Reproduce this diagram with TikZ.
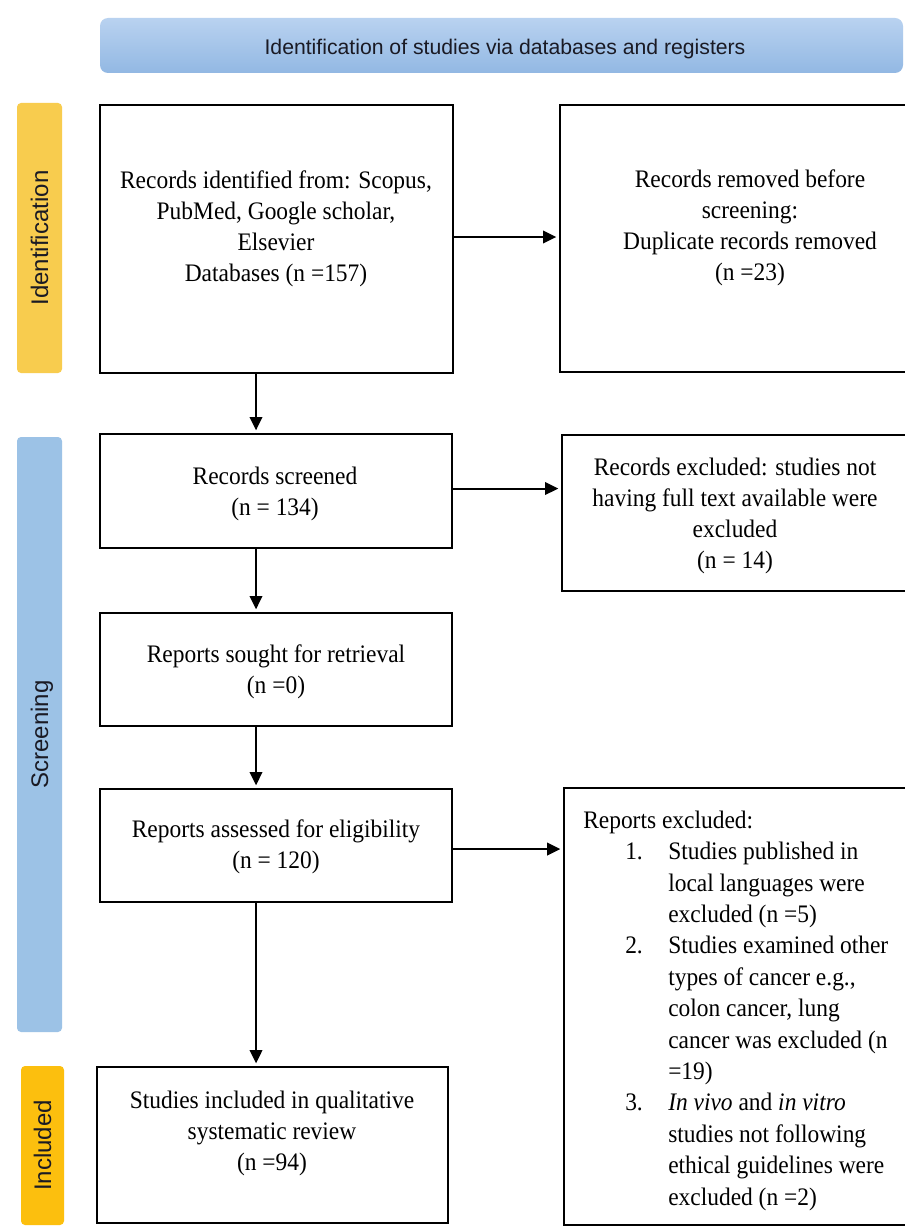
\documentclass[tikz,border=0pt]{standalone}
\usepackage{fontspec}
\setmainfont{Liberation Serif}[FakeStretch=0.93]
\newfontfamily\sansf{Liberation Sans}
\usetikzlibrary{arrows.meta,fit}
\definecolor{bannertop}{HTML}{B9D2F0}
\definecolor{bannerbot}{HTML}{92B8E3}
\definecolor{idcol}{HTML}{F8CC4E}
\definecolor{scrcol}{HTML}{9CC2E6}
\definecolor{inccol}{HTML}{FCBF0E}
\definecolor{lbltext}{HTML}{1A1A24}
\newcommand\ritem[1]{\hspace*{31.5pt}\makebox[32.25pt][l]{#1}}
\newcommand\rcont{\hspace*{63.75pt}}
\newcommand\fstrut{\rule{0pt}{14pt}}
\begin{document}
\begin{tikzpicture}[x=0.75pt,y=-0.75pt,
  box/.style={draw=black, line width=1.5pt, inner sep=0pt},
  txt/.style={font=\fontsize{18.9pt}{23.25pt}\selectfont, align=center, inner sep=0pt, anchor=north},
  listtxt/.style={font=\fontsize{18.9pt}{23.55pt}\selectfont, align=left, inner sep=0pt, anchor=north west},
  arr/.style={line width=1.5pt, -{Triangle[length=10pt,width=9.5pt]}, shorten >=2pt},
  bar/.style={inner sep=0pt, rounded corners=3pt},
  barlbl/.style={font=\sansf\fontsize{18pt}{20pt}\selectfont, rotate=90, text=lbltext, anchor=base, inner sep=0pt}]
\useasboundingbox (0,0) rectangle (905,1227);
\fill[white] (0,0) rectangle (905,1227);
\clip (0,0) rectangle (905,1227);

% banner
\node[fit={(100,18) (903,73)}, inner sep=0pt, rounded corners=6pt, top color=bannertop, bottom color=bannerbot] (banner) {};
\node[font=\sansf\fontsize{15.9pt}{18pt}\selectfont, text=lbltext, anchor=base, inner sep=0pt] (bannertxt) at (505,54.5) {Identification of studies via databases and registers};

% phase bars
\node[bar, fill=idcol, fit={(17,103) (62,373)}] (idbar) {};
\node[bar, fill=scrcol, fit={(17,437) (62,1032)}] (scrbar) {};
\node[bar, fill=inccol, fit={(21,1066) (64,1225)}] (incbar) {};
\node[barlbl] (idlbl) at (48.1,238) {Identification};
\node[barlbl] (scrlbl) at (48.1,734.5) {Screening};
\node[barlbl] (inclbl) at (51.1,1145.5) {Included};

% boxes
\node[box, fit={(100,105) (453,373)}] (b1) {};
\node[box, fit={(560,105) (935,372)}] (b2) {};
\node[box, fit={(100,434) (452,548)}] (b3) {};
\node[box, fit={(562,435) (935,591)}] (b4) {};
\node[box, fit={(100,613) (452,726)}] (b5) {};
\node[box, fit={(100,789) (452,902)}] (b6) {};
\node[box, fit={(564,788) (935,1225)}] (b7) {};
\node[box, fit={(97,1067) (448,1223)}] (b8) {};

% texts
\node[txt] (t1) at (276,169.3) {\fstrut Records identified from: Scopus,\\ PubMed, Google scholar,\\ Elsevier\\ Databases (n =157)};
\node[txt] (t2) at (750,168.3) {\fstrut Records removed before\\ screening:\hspace*{21pt}\\ Duplicate records removed\\ (n =23)};
\node[txt] (t3) at (275,465.3) {\fstrut Records screened\\ (n = 134)};
\node[txt] (t4) at (735,456.3) {\fstrut Records excluded: studies not\\ having full text available were\\ excluded\\ (n = 14)};
\node[txt] (t5) at (276,643.3) {\fstrut Reports sought for retrieval\\ (n =0)};
\node[txt] (t6) at (276,818.3) {\fstrut Reports assessed for eligibility\\ (n = 120)};
\node[txt] (t8) at (272,1089.3) {\fstrut Studies included in qualitative\\ systematic review\\ (n =94)};
\node[listtxt] (t7) at (583,809.3) {\fstrut Reports excluded:\\
\ritem{1.}Studies published in\\
\rcont local languages were\\
\rcont excluded (n =5)\\
\ritem{2.}Studies examined other\\
\rcont types of cancer e.g.,\\
\rcont colon cancer, lung\\
\rcont cancer was excluded (n\\
\rcont =19)\\
\ritem{3.}\textit{In vivo} and \textit{in vitro}\\
\rcont studies not following\\
\rcont ethical guidelines were\\
\rcont excluded (n =2)};

% connectors
\coordinate (vx) at (256,0);
\coordinate (h1) at (0,237);
\coordinate (h2) at (0,488.5);
\coordinate (h3) at (0,849);
\draw[arr] (b1.east |- h1) -- (b2.west |- h1);
\draw[arr] (b3.east |- h2) -- (b4.west |- h2);
\draw[arr] (b6.east |- h3) -- (b7.west |- h3);
\draw[arr] (b1.south -| vx) -- (b3.north -| vx);
\draw[arr] (b3.south -| vx) -- (b5.north -| vx);
\draw[arr] (b5.south -| vx) -- (b6.north -| vx);
\draw[arr] (b6.south -| vx) -- (b8.north -| vx);
\end{tikzpicture}
\end{document}
